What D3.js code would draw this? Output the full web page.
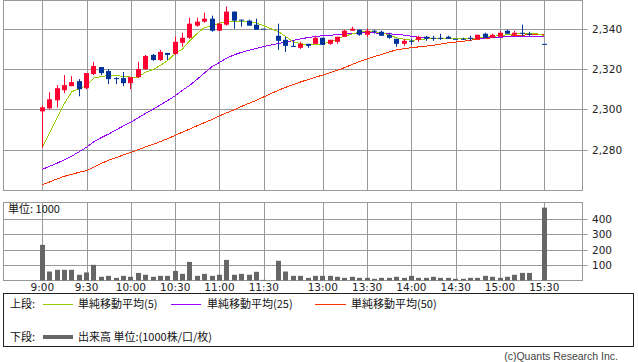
<!DOCTYPE html>
<html><head><meta charset="utf-8">
<script src="https://cdn.jsdelivr.net/npm/d3@7"></script>
<style>body{margin:0;background:#fff;}svg{display:block;}</style>
</head><body>
<svg id="c" width="638" height="362"></svg>
<script>
// ---- data ----
const times = [
 "9:00","9:05","9:10","9:15","9:20","9:25","9:30","9:35","9:40","9:45","9:50","9:55",
 "10:00","10:05","10:10","10:15","10:20","10:25","10:30","10:35","10:40","10:45","10:50","10:55",
 "11:00","11:05","11:10","11:15","11:20","11:25","11:30",
 "12:30","12:35","12:40","12:45","12:50","12:55",
 "13:00","13:05","13:10","13:15","13:20","13:25","13:30","13:35","13:40","13:45","13:50","13:55",
 "14:00","14:05","14:10","14:15","14:20","14:25","14:30","14:35","14:40","14:45","14:50","14:55",
 "15:00","15:05","15:10","15:15","15:20","15:25","15:30"];
const open = [2299,2300.5,2304.5,2309.5,2311.5,2314,2310.5,2317.5,2321,2319,2315.5,2315.5,
 2313,2316,2320,2327,2324.5,2328,2327.5,2333,2335.5,2341.5,2343.5,2345,
 2339,2342,2348.5,2344.5,2344,2342,2340,
 2336.5,2334.5,2331.5,2330.5,2332.5,2332.5,
 2335.5,2332.5,2333.5,2336,2339,2339.5,2337,2339,2338.5,2337,2335,2332.5,
 2334,2334.5,2336,2335.5,2335.5,2336,2335,2335,2335.5,2335,2337.5,2335.5,
 2336,2339,2337,2338,2337.5,null,2332.5];
const high = [2302,2308.5,2312,2317,2316.5,2315,2318,2323.5,2321,2320,2316,2318.5,
 2316,2323.5,2327,2327.5,2329.5,2328,2336,2338,2345.5,2345.5,2348,2346.5,
 2343,2351,2348.5,2344.5,2344.5,2345,2340,
 2342.5,2336,2334,2333.5,2332.5,2336.5,
 2335.5,2334.5,2336,2339.5,2341,2339.5,2340,2339.5,2339,2338,2335,2335,
 2335,2336.5,2336.5,2336.5,2337.5,2336.5,2335,2335.5,2336.5,2337,2338,2337.5,
 2339,2339.5,2339,2342,2338.5,null,2332.5];
const low = [2281,2300,2301,2308,2311.5,2306.5,2310,2317,2317,2312.5,2312.5,2311.5,
 2310,2315.5,2319.5,2324,2324,2324.5,2327,2331,2335,2341,2343,2338.5,
 2339,2341.5,2340,2341,2341.5,2339.5,2340,
 2329.5,2328.5,2331,2330,2330.5,2332.5,
 2332,2332,2332.5,2336,2339,2336.5,2336,2337.5,2336.5,2335,2331,2331.5,
 2332,2333.5,2334,2334,2334.5,2335,2335,2334.5,2334,2335,2335.5,2335.5,
 2336,2337.5,2336.5,2336.5,2336.5,null,2332.5];
const close = [2301,2305,2310.5,2312,2313.5,2310,2318,2321.5,2318,2315,2315,2313,
 2316,2320,2326.5,2324.5,2328.5,2327,2333.5,2335.5,2342.5,2343.5,2345,2339,
 2342.5,2348.5,2344,2344,2341.5,2339.5,2340,
 2334,2331.5,2331,2332.5,2331.5,2335.5,
 2332,2334.5,2336,2339,2340,2337,2339,2338.5,2336.5,2335.5,2332.5,2334,
 2333.5,2336,2335,2335,2335,2335,2335,2335,2335,2337,2335.5,2337,
 2338,2337.5,2338,2337.5,2337.5,null,2332.5];
const volume = [230,58,69,69,69,37,52,101,24,30,17,30,
 24,49,37,24,30,30,62,43,120,30,43,30,
 37,133,37,43,37,56,4,
 127,58,30,30,17,30,
 30,30,24,17,24,17,17,11,17,17,24,17,
 30,17,17,24,17,17,11,11,17,17,30,24,
 17,24,37,49,49,null,470];
const ma5 = [2281.3,2288.5,2295.8,2303,2308.8,2310.2,2312,2315.5,2316.3,2316.8,2316.8,2316.3,
 2316,2316,2318.5,2319.8,2321.8,2324.3,2327.6,2330,2334.2,2337.7,2340.7,2341.3,
 2342.8,2343.6,2343.8,2343.8,2343.7,2342.8,2341.5,
 2338.5,2336,2333.5,2332.5,2332.2,2332.3,
 2332.5,2333.4,2335,2336.4,2337.4,2338.3,2338.7,2338.5,2338,2336.8,2335.5,2334.8,
 2334.3,2334.5,2335,2335.2,2335.3,2335.3,2335.2,2335,2335,2335.5,2336,2336.2,
 2336.6,2337,2337.4,2337.6,2337.7,2337.6,2336.5];
const ma25 = [2270.2,2271.8,2273.3,2275,2276.8,2279,2281.2,2284,2286,2287.8,2289.8,2291.8,
 2293.6,2295.8,2298,2300,2302.2,2304.4,2306.7,2309.5,2312,2315,2318.2,2321.2,
 2323.3,2325.4,2327.1,2328.3,2329.3,2330.2,2331.2,
 2332.7,2333.4,2334.2,2335,2335.6,2336.2,
 2336.5,2336.8,2337,2337.4,2337.7,2337.9,2338,2337.9,2337.8,2337.5,2337.2,2336.8,
 2336.3,2335.8,2335.5,2335.3,2335.2,2335.1,2335,2335,2335,2335.2,2335.4,2335.6,
 2335.8,2336,2336.1,2336.2,2336.2,2336.2,2336.2];
const ma50 = [2262.6,2264,2265.5,2266.8,2267.8,2268.8,2269.6,2271.4,2273.2,2274.8,2276.1,2277.4,
 2278.6,2280,2281.4,2282.6,2284,2285.5,2287.1,2288.7,2290.3,2291.9,2293.5,2295,
 2296.8,2298.3,2299.8,2301.5,2303,2304.5,2306.2,
 2309.5,2311,2312.3,2313.6,2314.8,2316,
 2317,2318.2,2319.4,2320.8,2322.3,2323.8,2325,2326.2,2327.3,2328.5,2329.5,2330.1,
 2330.6,2331,2331.4,2331.8,2332.4,2333,2333.4,2333.8,2334.3,2334.8,2335.2,2335.5,
 2335.8,2336.2,2336.6,2336.8,2337,2337,2337];
const xTickLabels = ["9:00","9:30","10:00","10:30","11:00","11:30","13:00","13:30","14:00","14:30","15:00","15:30"];
const priceTicks = [2280,2300,2320,2340];
const volTicks = [100,200,300,400];

// ---- layout ----
const svg = d3.select('#c');
const L = 3.5, R = 582.5;
const mTop = 0.5, mBot = 190.5, vTop = 202.5, vBot = 280.5;
const gridC = '#999';
const tickFont = '"DejaVu Sans", Verdana, sans-serif';
const jpFont = '"Noto Sans CJK JP", sans-serif';

// slot index of a time (5-minute slots, lunch gap compressed)
function slot(t){ const p=t.split(':').map(Number); const m=p[0]*60+p[1]; return m<=690 ? (m-540)/5 : (m-750)/5+32; }
const x = d3.scaleLinear().domain([0,68]).range([42.3,544.3]);
const y = d3.scaleLinear().domain([2260,2354]).range([190,0.5]);
const yV = d3.scaleLinear().domain([0,400]).range([280.5,218.5]);
const cx = t => x(slot(t));
const crisp = v => Math.round(v)+0.5;

const bars = times.map((t,i)=>({t, o:open[i], h:high[i], l:low[i], c:close[i], v:volume[i], m5:ma5[i], m25:ma25[i], m50:ma50[i]}));

// panels
function panel(top,bot){
  svg.append('rect').attr('x',L).attr('y',top).attr('width',R-L).attr('height',bot-top)
    .attr('fill','#fff').attr('stroke',gridC).attr('stroke-width',1);
}
panel(mTop,mBot); panel(vTop,vBot);

// vertical grid
xTickLabels.forEach(lbl=>{
  const xx = crisp(cx(lbl));
  [[mTop,mBot],[vTop,vBot]].forEach(([a,b])=>{
    svg.append('line').attr('x1',xx).attr('x2',xx).attr('y1',a).attr('y2',b).attr('stroke',gridC);
  });
  svg.append('text').attr('x',cx(lbl)).attr('y',291).attr('text-anchor','middle')
    .attr('font-family',tickFont).attr('font-size','10.5px').attr('fill','#222').text(lbl);
});
// horizontal grid + labels (price)
priceTicks.forEach(v=>{
  const yy = crisp(y(v));
  svg.append('line').attr('x1',L).attr('x2',R+5).attr('y1',yy).attr('y2',yy).attr('stroke',gridC);
  svg.append('text').attr('x',592).attr('y',yy).attr('dy','0.36em')
    .attr('font-family',tickFont).attr('font-size','10.5px').attr('fill','#222').text(d3.format(',')(v));
});
volTicks.forEach(v=>{
  const yy = crisp(yV(v));
  svg.append('line').attr('x1',L).attr('x2',R+5).attr('y1',yy).attr('y2',yy).attr('stroke',gridC);
  svg.append('text').attr('x',592).attr('y',yy).attr('dy','0.36em')
    .attr('font-family',tickFont).attr('font-size','10.5px').attr('fill','#222').text(v);
});
svg.append('text').attr('x',8).attr('y',213).attr('font-family',jpFont).attr('font-size','11px').attr('fill','#111').text('単位: 1000');

// volume bars
svg.append('g').selectAll('rect').data(bars.filter(d=>d.v!=null)).join('rect')
  .attr('x',d=>Math.round(cx(d.t)-2.5)).attr('width',5)
  .attr('y',d=>yV(d.v)).attr('height',d=>yV(0)-yV(d.v)).attr('fill','#666');

// moving averages
const lineGen = key => d3.line().defined(d=>d[key]!=null).x(d=>cx(d.t)).y(d=>y(d[key]));
[['m50','#ff3300'],['m25','#9900ff'],['m5','#99cc00']].forEach(([k,col])=>{
  svg.append('path').datum(bars).attr('d',lineGen(k)).attr('fill','none').attr('stroke',col)
    .attr('stroke-width',1).attr('shape-rendering','crispEdges');
});

// candles
const cg = svg.append('g').selectAll('g').data(bars.filter(d=>d.o!=null)).join('g');
const col = d => d.c > d.o ? '#ff0033' : '#003399';
cg.append('line').attr('x1',d=>crisp(cx(d.t)-0.5)).attr('x2',d=>crisp(cx(d.t)-0.5))
  .attr('y1',d=>y(d.h)).attr('y2',d=>y(d.l)).attr('stroke',col);
cg.append('rect').attr('x',d=>Math.round(cx(d.t)-2.5)).attr('width',5)
  .attr('y',d=>Math.min(y(d.o),y(d.c))).attr('height',d=>Math.max(1,Math.abs(y(d.o)-y(d.c))))
  .attr('fill',col);

// legend
svg.append('rect').attr('x',3.5).attr('y',293.5).attr('width',630).attr('height',53)
  .attr('fill','none').attr('stroke','#222');
const lg = [[43,73,'#99cc00',78,'単純移動平均(5)'],[171,201,'#9900ff',207,'単純移動平均(25)'],[315,346,'#ff3300',351,'単純移動平均(50)']];
svg.append('text').attr('x',10).attr('y',308).attr('font-family',jpFont).attr('font-size','11px').attr('fill','#111').text('上段:');
lg.forEach(([a,b,c,tx,s])=>{
  svg.append('line').attr('x1',a).attr('x2',b).attr('y1',304.5).attr('y2',304.5).attr('stroke',c);
  svg.append('text').attr('x',tx).attr('y',308).attr('font-family',jpFont).attr('font-size','11px').attr('fill','#111').text(s);
});
svg.append('text').attr('x',10).attr('y',341).attr('font-family',jpFont).attr('font-size','11px').attr('fill','#111').text('下段:');
svg.append('line').attr('x1',43).attr('x2',73).attr('y1',337).attr('y2',337).attr('stroke','#666').attr('stroke-width',4);
svg.append('text').attr('x',78).attr('y',341).attr('font-family',jpFont).attr('font-size','11px').attr('fill','#111').text('出来高 単位:(1000株/口/枚)');
svg.append('text').attr('x',618).attr('y',360).attr('text-anchor','end').attr('font-family','"Liberation Sans", Arial, sans-serif')
  .attr('font-size','10.5px').attr('fill','#444').text('(c)Quants Research Inc.');
</script>
</body></html>
